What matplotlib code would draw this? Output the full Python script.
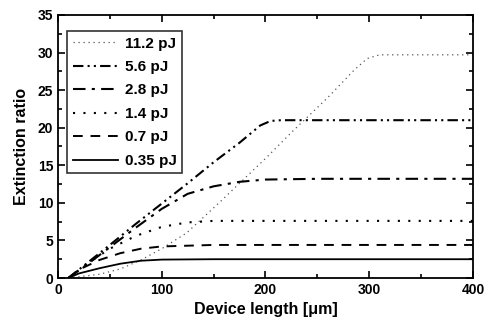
import matplotlib
matplotlib.use("Agg")
import matplotlib.pyplot as plt
from matplotlib.ticker import MultipleLocator
import numpy as np

plt.rcParams['font.family'] = ['Liberation Sans', 'DejaVu Sans']
plt.rcParams['font.weight'] = 'bold'

labels = ["11.2 pJ", "5.6 pJ", "2.8 pJ", "1.4 pJ", "0.7 pJ", "0.35 pJ"]

x_112 = [10, 40, 60, 80, 100, 124, 156, 200, 226, 260, 285, 298, 310, 400]
y_112 = [0, 0.5, 1.2, 2.4, 3.9, 6.0, 10.1, 15.9, 19.5, 24.0, 27.6, 29.2, 29.7, 29.7]

x_56 = [10, 30, 50, 75, 100, 125, 150, 175, 195, 205, 215, 400]
y_56 = [0, 2.2, 4.4, 7.2, 9.9, 12.6, 15.4, 18.0, 20.3, 20.9, 21.0, 21.0]

x_28 = [10, 30, 50, 75, 100, 125, 150, 175, 200, 250, 400]
y_28 = [0, 2.0, 4.1, 6.7, 9.2, 11.2, 12.2, 12.8, 13.1, 13.2, 13.2]

x_14 = [10, 30, 50, 75, 100, 125, 150, 200, 400]
y_14 = [0, 2.1, 3.9, 5.6, 6.8, 7.4, 7.6, 7.6, 7.6]

x_07 = [10, 20, 40, 60, 80, 100, 150, 400]
y_07 = [0, 1.1, 2.4, 3.3, 3.9, 4.2, 4.4, 4.4]

x_035 = [10, 20, 40, 60, 80, 100, 150, 400]
y_035 = [0, 0.6, 1.3, 1.9, 2.3, 2.45, 2.5, 2.5]

fig = plt.figure(figsize=(4.85, 3.23), dpi=100)
ax = fig.add_axes([0.1196, 0.1393, 0.8554, 0.8143])

ax.plot(x_112, y_112, color='#555555', lw=0.9, linestyle=(0, (1, 3)), label=labels[0])
ax.plot(x_56, y_56, color='black', lw=1.5, linestyle=(0, (5, 2, 1, 2, 1, 2)), label=labels[1])
ax.plot(x_28, y_28, color='black', lw=1.5, linestyle=(0, (6, 3, 1.5, 3)), label=labels[2])
ax.plot(x_14, y_14, color='black', lw=1.5, linestyle=(0, (1, 4)), label=labels[3])
ax.plot(x_07, y_07, color='black', lw=1.4, linestyle=(0, (5, 4)), label=labels[4])
ax.plot(x_035, y_035, color='black', lw=1.3, linestyle='-', label=labels[5])

ax.set_xlim(0, 400)
ax.set_ylim(0, 35)
ax.xaxis.set_major_locator(MultipleLocator(100))
ax.xaxis.set_minor_locator(MultipleLocator(50))
ax.yaxis.set_major_locator(MultipleLocator(5))
ax.yaxis.set_minor_locator(MultipleLocator(2.5))
ax.tick_params(which='both', direction='in', top=True, right=True, labelsize=10, width=1.2)
ax.tick_params(which='major', length=5)
ax.tick_params(which='minor', length=3)
for s in ax.spines.values():
    s.set_linewidth(1.3)
for t in ax.get_xticklabels() + ax.get_yticklabels():
    t.set_fontweight('bold')

ax.set_xlabel("Device length [\u03bcm]", fontsize=11.5, fontweight='bold', labelpad=4)
ax.set_ylabel("Extinction ratio", fontsize=11.5, fontweight='bold', labelpad=6)

leg = ax.legend(loc='upper left', bbox_to_anchor=(0.015, 0.95), fontsize=11,
                frameon=True, fancybox=False, edgecolor='black', handlelength=3.0,
                handletextpad=0.4, labelspacing=0.62, borderpad=0.35, borderaxespad=0.2)
leg.get_frame().set_linewidth(1.2)
for t in leg.get_texts():
    t.set_fontweight('bold')

fig.savefig("out.png", dpi=100)
